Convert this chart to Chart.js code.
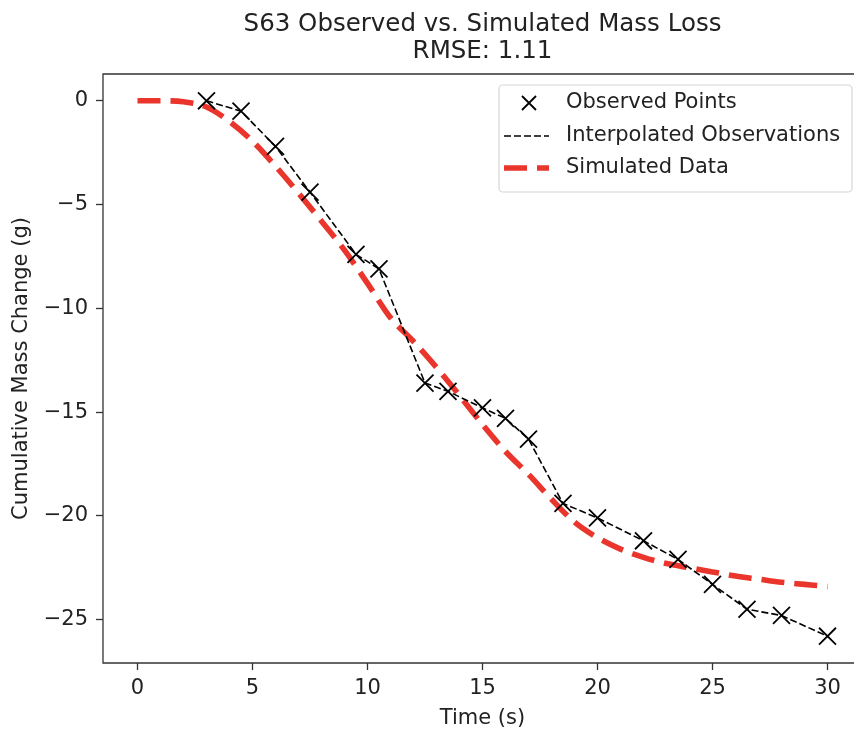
<!DOCTYPE html>
<html>
<head>
<meta charset="utf-8">
<script src="https://cdn.jsdelivr.net/npm/chart.js@4.4.1/dist/chart.umd.min.js"></script>
<style>
  html, body { margin: 0; padding: 0; background: #fff; overflow: hidden; }
  #wrap { width: 900px; height: 731px; }
</style>
</head>
<body>
<div id="wrap"><canvas id="massChart" width="900" height="731"></canvas></div>
<script>
// observed points (time in s, cumulative mass change in g)
const obsTime = [3, 4.5, 6, 7.5, 9.5, 10.5, 12.5, 13.5, 15, 16, 17, 18.5, 20, 22, 23.5, 25, 26.5, 28, 30]
const obsMass = [0, -0.5, -2.2, -4.4, -7.4, -8.1, -13.6, -14.0, -14.8, -15.3, -16.3, -19.4, -20.1, -21.2, -22.1, -23.3, -24.5, -24.8, -25.8]

// simulated curve
const simTime = [0, 1, 2, 3, 4, 5, 6, 7, 8, 9, 10, 11, 12, 13, 14, 15, 16, 17, 18, 19, 20, 21, 22, 23, 24, 25, 26, 27, 28, 29, 30]
const simMass = [0, 0, -0.05, -0.3, -1.0, -1.95, -3.15, -4.45, -5.8, -7.2, -8.8, -10.45, -11.6, -12.85, -14.2, -15.6, -16.9, -18.0, -19.2, -20.3, -21.05, -21.6, -22.0, -22.3, -22.5, -22.7, -22.9, -23.05, -23.2, -23.3, -23.4]

const xTicks = [0, 5, 10, 15, 20, 25, 30]
const yTicks = [0, -5, -10, -15, -20, -25]

const titleLines = ['S63 Observed vs. Simulated Mass Loss', 'RMSE: 1.11']
const labels = ['Observed Points', 'Interpolated Observations', 'Simulated Data']

const RED = '#e9352b'
const INK = '#222'
const FONT = 'DejaVu Sans'
const FS = 21

const toXY = (xs, ys) => xs.map((x, i) => ({ x: x, y: ys[i] }))
const minus = v => (v < 0 ? '\u2212' + Math.abs(v) : String(v))

// axes box: top, left and bottom edges (the right edge is outside the picture)
const frame = {
  id: 'frame',
  beforeDatasetsDraw(chart) {
    const { ctx, chartArea: a } = chart
    ctx.save()
    ctx.strokeStyle = '#333'
    ctx.lineWidth = 1.3
    ctx.beginPath()
    ctx.moveTo(a.right, a.top)
    ctx.lineTo(a.left, a.top)
    ctx.lineTo(a.left, a.bottom)
    ctx.lineTo(a.right, a.bottom)
    ctx.stroke()
    ctx.restore()
  }
}

// legend box in the upper right corner
const legendBox = {
  id: 'legendBox',
  afterDatasetsDraw(chart) {
    const { ctx, chartArea: a } = chart
    const right = a.right - 10
    const top = a.top + 11
    const w = 353, h = 107
    const left = right - w
    ctx.save()
    ctx.beginPath()
    ctx.roundRect(left, top, w, h, 4)
    ctx.fillStyle = 'rgba(255,255,255,0.85)'
    ctx.fill()
    ctx.strokeStyle = '#d6d6d6'
    ctx.lineWidth = 1.2
    ctx.stroke()

    const rows = [top + 18, top + 51, top + 83]
    const ds = chart.data.datasets
    // marker handle
    ctx.strokeStyle = '#000'
    ctx.lineWidth = 1.8
    ctx.beginPath()
    const cx = left + 30, cy = rows[0], r = 7
    ctx.moveTo(cx - r, cy - r); ctx.lineTo(cx + r, cy + r)
    ctx.moveTo(cx - r, cy + r); ctx.lineTo(cx + r, cy - r)
    ctx.stroke()
    // line handles
    for (let i = 1; i < 3; i++) {
      ctx.beginPath()
      ctx.strokeStyle = ds[i].borderColor
      ctx.lineWidth = ds[i].borderWidth
      ctx.setLineDash(ds[i].borderDash)
      ctx.lineCap = 'butt'
      ctx.moveTo(left + 5, rows[i])
      ctx.lineTo(left + 50, rows[i])
      ctx.stroke()
    }
    ctx.setLineDash([])
    ctx.fillStyle = INK
    ctx.font = FS + 'px "' + FONT + '"'
    ctx.textBaseline = 'middle'
    ctx.textAlign = 'left'
    labels.forEach((t, i) => ctx.fillText(t, left + 67, rows[i]))
    ctx.restore()
  }
}

// stop chart.js from shrinking the axes to make room for edge tick labels
const noEdgePad = s => {
  s._calculatePadding = function () {
    this.paddingLeft = 0
    this.paddingRight = 0
    this.paddingTop = 0
    this.paddingBottom = 0
  }
}

new Chart(document.getElementById('massChart'), {
  type: 'scatter',
  data: {
    datasets: [
      {
        label: labels[0],
        data: toXY(obsTime, obsMass),
        showLine: false,
        pointStyle: 'crossRot',
        pointRadius: 12,
        pointHoverRadius: 12,
        pointBorderColor: '#000',
        pointBorderWidth: 1.8,
        borderColor: '#000'
      },
      {
        label: labels[1],
        data: toXY(obsTime, obsMass),
        showLine: true,
        borderColor: '#000',
        borderWidth: 1.6,
        borderDash: [7, 3],
        pointRadius: 0,
        fill: false
      },
      {
        label: labels[2],
        data: toXY(simTime, simMass),
        showLine: true,
        borderColor: RED,
        borderWidth: 5.6,
        borderDash: [23, 10],
        borderCapStyle: 'butt',
        cubicInterpolationMode: 'monotone',
        pointRadius: 0,
        fill: false
      }
    ]
  },
  options: {
    responsive: false,
    animation: false,
    layout: { padding: { top: 11, right: 38, left: 0, bottom: 0 } },
    plugins: {
      legend: { display: false },
      tooltip: { enabled: false },
      title: {
        display: true,
        fullSize: false,
        text: titleLines,
        color: INK,
        font: { family: FONT, size: 24.5, weight: 'normal', lineHeight: 1.1 },
        padding: { top: 0, bottom: 9.1 }
      }
    },
    scales: {
      x: {
        type: 'linear',
        min: -1.5,
        max: 31.5,
        beforeFit: noEdgePad,
        afterBuildTicks: s => { s.ticks = xTicks.map(v => ({ value: v })) },
        afterFit: s => { s.height = 68 },
        border: { display: false },
        grid: { drawOnChartArea: false, tickLength: 7, tickColor: '#333', tickWidth: 1.3 },
        ticks: {
          color: INK,
          font: { family: FONT, size: FS },
          padding: 6,
          maxRotation: 0,
          autoSkip: false,
          callback: v => minus(v)
        },
        title: {
          display: true,
          text: 'Time (s)',
          color: INK,
          font: { family: FONT, size: FS },
          padding: { top: 0, bottom: 0 }
        }
      },
      y: {
        type: 'linear',
        min: -27.09,
        max: 1.29,
        beforeFit: noEdgePad,
        afterBuildTicks: s => { s.ticks = yTicks.map(v => ({ value: v })) },
        afterFit: s => { s.width = 103 },
        border: { display: false },
        grid: { drawOnChartArea: false, tickLength: 7, tickColor: '#333', tickWidth: 1.3 },
        ticks: {
          color: INK,
          font: { family: FONT, size: FS },
          padding: 8,
          autoSkip: false,
          callback: v => minus(v)
        },
        title: {
          display: true,
          text: 'Cumulative Mass Change (g)',
          color: INK,
          font: { family: FONT, size: FS },
          padding: { top: 9, bottom: 0 }
        }
      }
    }
  },
  plugins: [frame, legendBox]
})
</script>
</body>
</html>
